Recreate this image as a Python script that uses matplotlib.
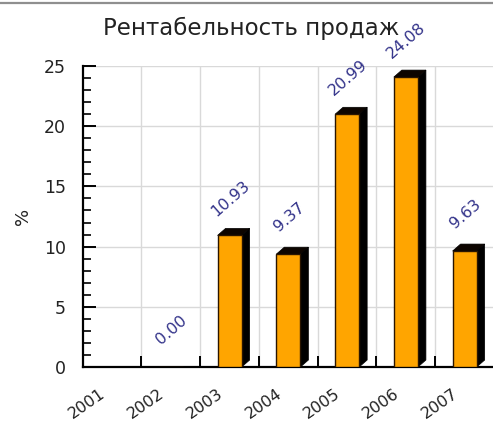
import numpy as np
import matplotlib
matplotlib.use("Agg")
import matplotlib.pyplot as plt
from matplotlib.patches import Polygon
from matplotlib.lines import Line2D
import matplotlib.transforms as mtrans

years = ["2001", "2002", "2003", "2004", "2005", "2006", "2007"]
values = [np.nan, 0.00, 10.93, 9.37, 20.99, 24.08, 9.63]
labels = ["", "0.00", "10.93", "9.37", "20.99", "24.08", "9.63"]
title = "Рентабельность продаж"
ylabel = "%"

W, H = 493, 425
fig = plt.figure(figsize=(W / 100, H / 100), dpi=100)
fig.patch.set_facecolor("white")

left = 82.7 / W
bottom = (H - 367) / H
top = (H - 66) / H
right = 494 / W
ax = fig.add_axes([left, bottom, right - left, top - bottom])
ax.set_facecolor("white")

n = len(years)
x = np.arange(n)
ax.set_xlim(-0.5, n - 0.5)
ax.set_ylim(0, 25)

# grid
ax.set_axisbelow(True)
ax.set_yticks(np.arange(0, 26, 5))
ax.set_yticks(np.arange(0, 26, 1), minor=True)
ax.set_xticks(x[:-1] + 0.5)
ax.set_xticklabels([])
ax.set_xticks(x, minor=True)
ax.set_xticklabels(years, minor=True, rotation=35, ha="right",
                   rotation_mode="default", fontsize=11.5, color="#222222")
ax.grid(True, which="major", color="#d9d9d9", lw=1.0)

ax.tick_params(axis="y", which="major", direction="in", length=9, width=1.4,
               labelsize=12.5, labelcolor="#222222", pad=12)
ax.tick_params(axis="y", which="minor", direction="in", length=6, width=1.2)
ax.tick_params(axis="x", which="major", direction="in", length=8, width=1.4)
ax.tick_params(axis="x", which="minor", length=0, pad=13.5)

offset = mtrans.ScaledTranslation(-4 / 100, 0, fig.dpi_scale_trans)
for lab in ax.get_xticklabels(minor=True):
    lab.set_transform(lab.get_transform() + offset)

for s in ["top", "right"]:
    ax.spines[s].set_visible(False)
for s in ["left", "bottom"]:
    ax.spines[s].set_linewidth(1.6)
    ax.spines[s].set_color("black")

# bars with 3D depth
bw = 0.41
dx = 8 / 58.76
dy = 7 / 12.07
vals = np.array(values, dtype=float)
mask = ~np.isnan(vals)
ax.bar(x[mask], vals[mask], width=bw, color="#FFA500", edgecolor="#2a1500",
       linewidth=1.0, zorder=3)
for xi, v in zip(x[mask], vals[mask]):
    if v <= 0:
        continue
    x0, x1 = xi - bw / 2, xi + bw / 2
    side = Polygon([(x1, 0), (x1 + dx, dy), (x1 + dx, v + dy), (x1, v)],
                   closed=True, facecolor="black", edgecolor="black", lw=0.5,
                   zorder=2.9, clip_on=False)
    topf = Polygon([(x0, v), (x0 + dx, v + dy), (x1 + dx, v + dy), (x1, v)],
                   closed=True, facecolor="#0d0500", edgecolor="black", lw=0.5,
                   zorder=2.9, clip_on=False)
    ax.add_patch(side)
    ax.add_patch(topf)

# value labels
for xi, v, lab in zip(x, vals, labels):
    if np.isnan(v) or lab == "":
        continue
    ax.annotate(lab, xy=(xi, v), xytext=(0.5, 26.5), textcoords="offset points",
                ha="center", va="center", rotation=41, fontsize=11.5,
                color="#33338a", zorder=5, annotation_clip=False)

# title, y label
fig.text(251 / W, 1 - 35 / H, title, ha="center", va="baseline",
         fontsize=16.5, color="#222222")
fig.text(23 / W, 1 - 216 / H, ylabel, ha="center", va="center",
         rotation=90, fontsize=13, color="#222222")

# top gray border line
fig.add_artist(Line2D([0, 1], [1 - 3 / H, 1 - 3 / H], transform=fig.transFigure,
                      color="#8f8f8f", lw=1.6))

fig.savefig("out.png", dpi=100, facecolor="white")
